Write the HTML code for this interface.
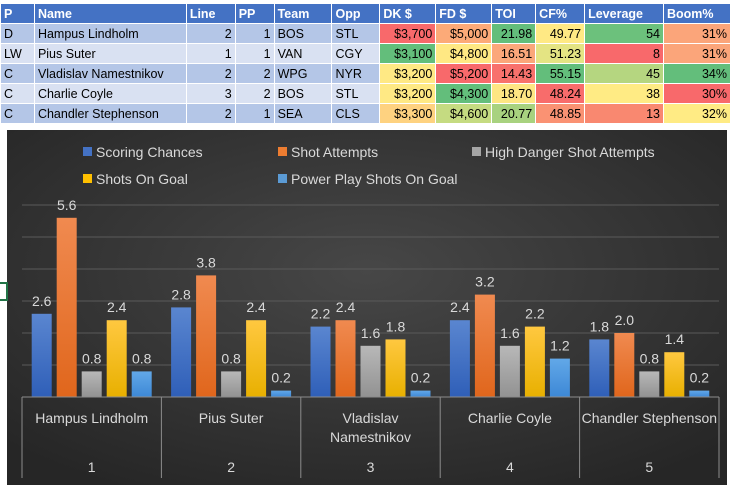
<!DOCTYPE html>
<html><head><meta charset="utf-8"><style>
body{margin:0;width:731px;height:490px;background:#fff;overflow:hidden;font-family:"Liberation Sans",sans-serif;position:relative}
table{position:absolute;left:0;top:3px;border-collapse:collapse;table-layout:fixed;font-size:12.5px}
td,th{height:19px;padding:0 3px;border:1px solid #fff;white-space:nowrap;overflow:hidden}
th{background:#4472c4;color:#fff;text-align:left;font-weight:bold}
tr.a td{background:#b4c6e7}tr.b td{background:#d9e1f2}
td.r{text-align:right}
#chart{position:absolute;left:0;top:0}
</style></head><body>
<table>
<colgroup><col style="width:34px"><col style="width:152px"><col style="width:49px"><col style="width:39px"><col style="width:58px"><col style="width:48px"><col style="width:56px"><col style="width:56px"><col style="width:44px"><col style="width:49px"><col style="width:79px"><col style="width:67px"></colgroup>
<tr><th>P</th><th>Name</th><th>Line</th><th>PP</th><th>Team</th><th>Opp</th><th>DK $</th><th>FD $</th><th>TOI</th><th>CF%</th><th>Leverage</th><th>Boom%</th></tr>
<tr class="a"><td>D</td><td>Hampus Lindholm</td><td class="r">2</td><td class="r">1</td><td>BOS</td><td>STL</td><td class="r" style="background:#f8696b">$3,700</td><td class="r" style="background:#fcaa78">$5,000</td><td class="r" style="background:#63be7b">21.98</td><td class="r" style="background:#ffe984">49.77</td><td class="r" style="background:#6cc17c">54</td><td class="r" style="background:#fba57a">31%</td></tr>
<tr class="b"><td>LW</td><td>Pius Suter</td><td class="r">1</td><td class="r">1</td><td>VAN</td><td>CGY</td><td class="r" style="background:#63be7b">$3,100</td><td class="r" style="background:#ffe883">$4,800</td><td class="r" style="background:#fba77a">16.51</td><td class="r" style="background:#e4e483">51.23</td><td class="r" style="background:#f8696b">8</td><td class="r" style="background:#fba57a">31%</td></tr>
<tr class="a"><td>C</td><td>Vladislav Namestnikov</td><td class="r">2</td><td class="r">2</td><td>WPG</td><td>NYR</td><td class="r" style="background:#ffe984">$3,200</td><td class="r" style="background:#f8696b">$5,200</td><td class="r" style="background:#f8716c">14.43</td><td class="r" style="background:#63be7b">55.15</td><td class="r" style="background:#b5d680">45</td><td class="r" style="background:#63be7b">34%</td></tr>
<tr class="b"><td>C</td><td>Charlie Coyle</td><td class="r">3</td><td class="r">2</td><td>BOS</td><td>STL</td><td class="r" style="background:#ffe984">$3,200</td><td class="r" style="background:#63be7b">$4,300</td><td class="r" style="background:#fee683">18.70</td><td class="r" style="background:#f86c6b">48.24</td><td class="r" style="background:#ffeb84">38</td><td class="r" style="background:#f8696b">30%</td></tr>
<tr class="a"><td>C</td><td>Chandler Stephenson</td><td class="r">2</td><td class="r">1</td><td>SEA</td><td>CLS</td><td class="r" style="background:#fed280">$3,300</td><td class="r" style="background:#c5db81">$4,600</td><td class="r" style="background:#a8d27f">20.77</td><td class="r" style="background:#fa9273">48.85</td><td class="r" style="background:#f98870">13</td><td class="r" style="background:#ffeb84">32%</td></tr>
</table>
<svg id="chart" width="731" height="490">
<defs>
<radialGradient id="bg" cx="50%" cy="40%" r="70%"><stop offset="0" stop-color="#474747"/><stop offset="1" stop-color="#262626"/></radialGradient>
<linearGradient id="g0" x1="0" y1="0" x2="0" y2="1"><stop offset="0" stop-color="#5a86d0"/><stop offset="1" stop-color="#2f5fb8"/></linearGradient>
<linearGradient id="g1" x1="0" y1="0" x2="0" y2="1"><stop offset="0" stop-color="#f08a50"/><stop offset="1" stop-color="#e0661c"/></linearGradient>
<linearGradient id="g2" x1="0" y1="0" x2="0" y2="1"><stop offset="0" stop-color="#b8b8b8"/><stop offset="1" stop-color="#929292"/></linearGradient>
<linearGradient id="g3" x1="0" y1="0" x2="0" y2="1"><stop offset="0" stop-color="#ffc840"/><stop offset="1" stop-color="#e8b000"/></linearGradient>
<linearGradient id="g4" x1="0" y1="0" x2="0" y2="1"><stop offset="0" stop-color="#62a8e8"/><stop offset="1" stop-color="#3d88d6"/></linearGradient>
</defs>
<rect x="7" y="130" width="720" height="355" fill="url(#bg)"/>
<path d="M0 283h7v17h-7" fill="none" stroke="#217346" stroke-width="2"/>
<g id="grid"></g><g id="bars"></g><g id="axis"></g><g id="legend"></g>
</svg>
<script>
const categories=["Hampus Lindholm","Pius Suter","Vladislav|Namestnikov","Charlie Coyle","Chandler Stephenson"];
const groupNums=["1","2","3","4","5"];
const seriesNames=["Scoring Chances","Shot Attempts","High Danger Shot Attempts","Shots On Goal","Power Play Shots On Goal"];
const scoringChances=[2.6,2.8,2.2,2.4,1.8];
const shotAttempts=[5.6,3.8,2.4,3.2,2.0];
const highDanger=[0.8,0.8,1.6,1.6,0.8];
const shotsOnGoal=[2.4,2.4,1.8,2.2,1.4];
const ppShotsOnGoal=[0.8,0.2,0.2,1.2,0.2];
const gridTicks=[1,2,3,4,5,6];
const series=[scoringChances,shotAttempts,highDanger,shotsOnGoal,ppShotsOnGoal];
const NS="http://www.w3.org/2000/svg";
const x0=22,x1=719,base=397,unit=32,catW=(x1-x0)/categories.length;
const y=v=>base-v*unit;
function mk(tag,attrs,parent){const e=document.createElementNS(NS,tag);for(const k in attrs)e.setAttribute(k,attrs[k]);parent.appendChild(e);return e;}
const G=document.getElementById('grid'),B=document.getElementById('bars'),A=document.getElementById('axis'),L=document.getElementById('legend');
gridTicks.forEach(t=>{const l=mk('line',{x1:x0,x2:x1,y1:y(t),y2:y(t),stroke:'#5a5a5a','stroke-width':1},G);

});
categories.forEach((c,i)=>{const cx=x0+catW*i;
series.forEach((s,j)=>{const bx=cx+(catW-120)/2+j*25,v=s[i];
const r=mk('rect',{x:bx,y:y(v),width:20,height:v*unit,fill:'url(#g'+j+')'},B);


const t=mk('text',{x:bx+10,y:y(v)-8,'text-anchor':'middle','font-size':14,fill:'#d9d9d9'},B);
t.textContent=v.toFixed(1);

});
const lines=c.split('|');lines.forEach((ln,k)=>{const t=mk('text',{x:cx+catW/2,y:423+k*19,'text-anchor':'middle','font-size':14,fill:'#d9d9d9'},A);t.textContent=ln;

});
const n=mk('text',{x:cx+catW/2,y:472,'text-anchor':'middle','font-size':14,fill:'#d9d9d9'},A);n.textContent=groupNums[i];

});
for(let i=0;i<=categories.length;i++){const l=mk('line',{x1:x0+catW*i,x2:x0+catW*i,y1:base,y2:478,stroke:'#8c8c8c','stroke-width':1},A);

}
const ax=mk('line',{x1:x0,x2:x1,y1:base,y2:base,stroke:'#8c8c8c','stroke-width':1},A);


const lpos=[[83,152],[278,152],[472,152],[83,179],[278,179]];
const lcol=['#4472c4','#ed7d31','#a5a5a5','#ffc000','#5b9bd5'];
seriesNames.forEach((n,j)=>{const [lx,ly]=lpos[j];
const g=mk('g',{},L);


mk('rect',{x:lx,y:ly-5,width:9,height:9,fill:lcol[j]},g);
const t=mk('text',{x:lx+13,y:ly+5,'font-size':14,fill:'#d9d9d9'},g);t.textContent=n;});
</script>
</body></html>
